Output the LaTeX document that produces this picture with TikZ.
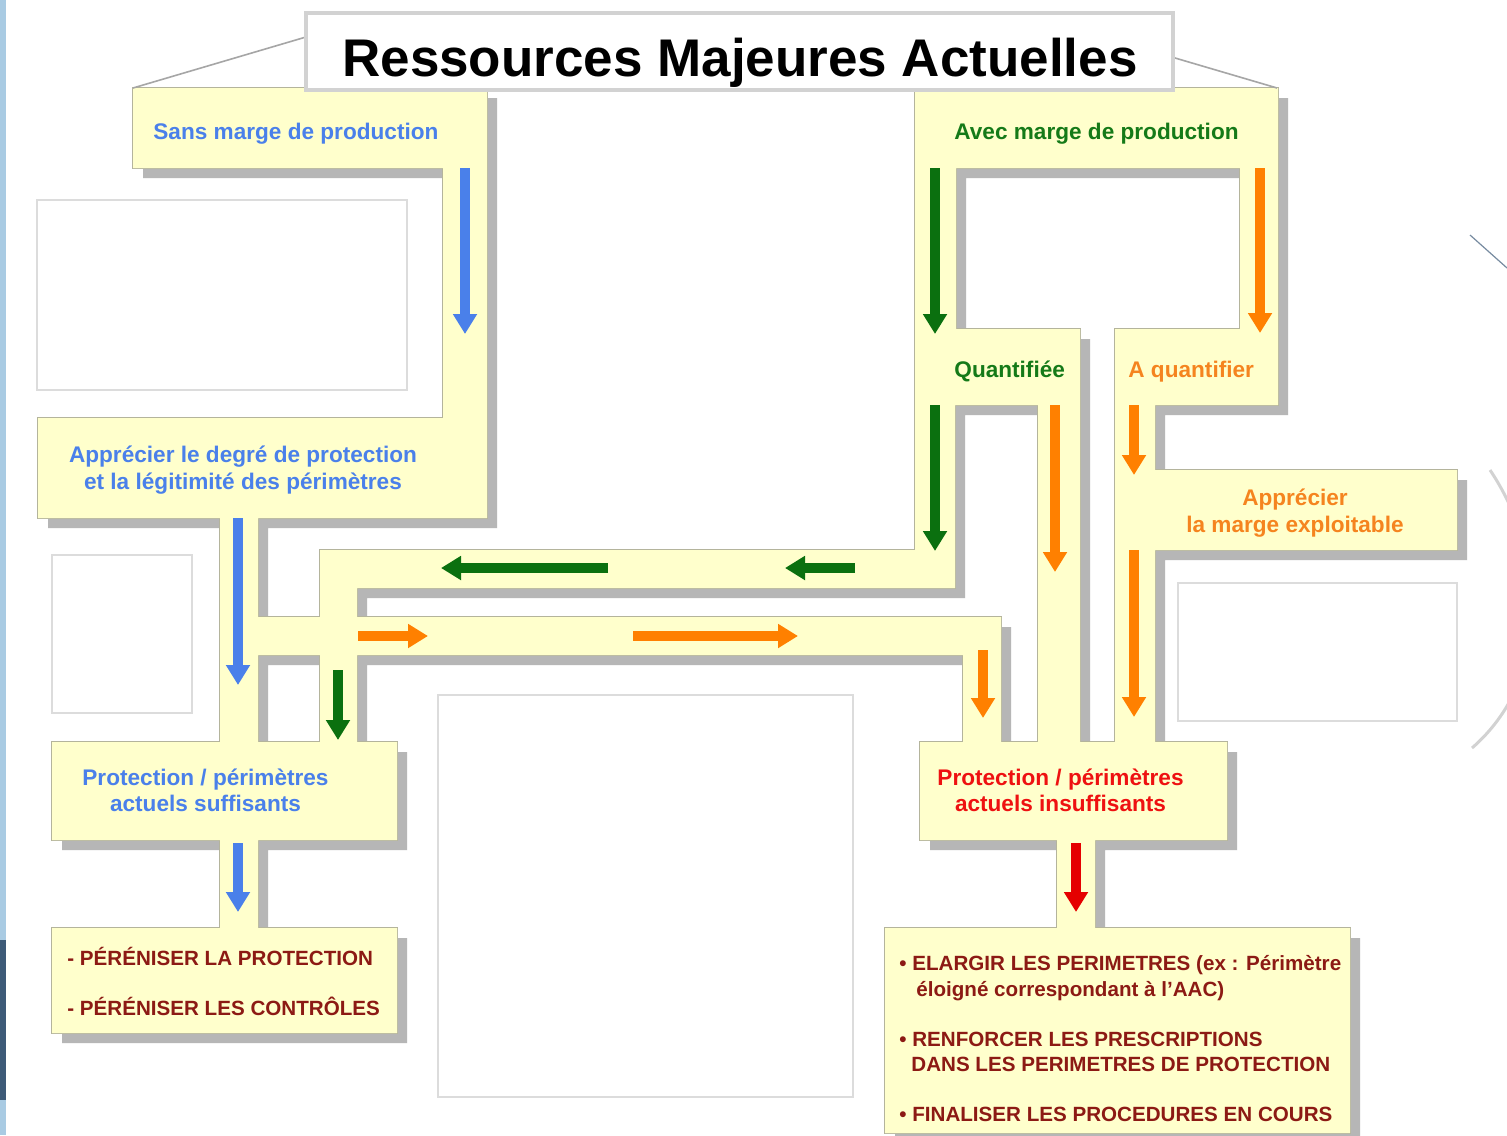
\documentclass[tikz,border=0pt]{standalone}
\usepackage{fontspec}
\setmainfont{Liberation Sans}
\usetikzlibrary{arrows.meta}
\definecolor{pipeY}{HTML}{FFFFCC}
\definecolor{pipeB}{HTML}{B4B49C}
\definecolor{shadowG}{HTML}{B6B6B6}
\definecolor{frameG}{HTML}{DCDCDC}
\definecolor{titleG}{HTML}{D2D2D2}
\definecolor{cBlue}{HTML}{4A80EA}
\definecolor{cGreen}{HTML}{157A18}
\definecolor{aGreen}{HTML}{0B700F}
\definecolor{cOrange}{HTML}{F5841F}
\definecolor{aOrange}{HTML}{FF8000}
\definecolor{cRed}{HTML}{EE1111}
\definecolor{cMaroon}{HTML}{8C1A14}
\definecolor{leftBlue}{HTML}{A9CBE3}
\definecolor{leftDark}{HTML}{3D5A78}
\newcommand\pipeshapes[1]{%
 \path[#1]
  (133,88) rectangle (487,168)
  (443,88) rectangle (487,418)
  (38,418) rectangle (487,518)
  (220,518) rectangle (258,742)
  (52,742) rectangle (397,840)
  (220,840) rectangle (258,928)
  (52,928) rectangle (397,1033)
  (258,617) rectangle (1001,655)
  (963,617) rectangle (1001,742)
  (320,550) rectangle (955,588)
  (320,550) rectangle (357,742)
  (915,88) rectangle (1278,168)
  (915,168) rectangle (956,329)
  (1240,168) rectangle (1278,329)
  (915,329) rectangle (1080,405)
  (1115,329) rectangle (1278,405)
  (915,405) rectangle (955,588)
  (1038,405) rectangle (1080,742)
  (1115,405) rectangle (1155,742)
  (1155,470) rectangle (1457,550)
  (920,742) rectangle (1227,840)
  (1057,840) rectangle (1095,928)
  (885,928) rectangle (1350,1133);}
\begin{document}
\begin{tikzpicture}[x=0.5pt,y=-0.5pt,
  frame/.style={draw=frameG, line width=0.7pt, fill=white},
  arr/.style={line width=5pt, -{Triangle[width=11.5pt,length=10pt]}},
  lbl/.style={font=\bfseries\fontsize{11.3}{13.5}\selectfont, inner sep=0pt, anchor=base},
  lblw/.style={lbl, anchor=base west},
  act/.style={font=\bfseries\fontsize{10.3}{12.5}\selectfont, inner sep=0pt, anchor=base west, text=cMaroon},
  ttl/.style={font=\bfseries\fontsize{26.5}{30}\selectfont, inner sep=0pt, anchor=base}]
\useasboundingbox (0,0) rectangle (1507,1135);
\fill[white] (0,0) rectangle (1507,1135);
% background fragments
\fill[leftBlue] (0,0) rectangle (6,1135);
\fill[leftDark] (0,940) rectangle (6,1100);
\draw[color=leftDark!70, line width=0.6pt] (1470,235) -- (1507,268);
\draw[gray!35, line width=1.5pt] (1490,470) .. controls (1550,560) and (1550,680) .. (1472,748);
% empty picture frames
\draw[frame] (37,200) rectangle (407,390);
\draw[frame] (52,555) rectangle (192,713);
\draw[frame] (438,695) rectangle (853,1097);
\draw[frame] (1178,583) rectangle (1457,721);
% pipes: shadow, border, fill
\begin{scope}[shift={(10,10)}]
  \pipeshapes{fill=shadowG}
\end{scope}
\pipeshapes{draw=pipeB, line width=1.3pt}
\pipeshapes{fill=pipeY}
% title
\coordinate (tlA) at (306,37);
\coordinate (tlB) at (133,88);
\coordinate (trA) at (1175,58);
\coordinate (trB) at (1277,88);
\draw[gray!70, line width=0.8pt] (tlA) -- (tlB);
\draw[gray!70, line width=0.8pt] (trA) -- (trB);
\draw[titleG, line width=2pt, fill=white] (306,13) rectangle (1173,90);
\node[ttl] (title) at (740,76) {Ressources Majeures Actuelles};
% labels
\node[lblw, text=cBlue] (sans) at (153,139) {Sans marge de production};
\node[lblw, text=cGreen] (avec) at (954,139) {Avec marge de production};
\node[lblw, text=cGreen] (quant) at (954,377) {Quantifiée};
\node[lblw, text=cOrange] (aquant) at (1128,377) {A quantifier};
\node[lbl, text=cBlue] (appA) at (243,462) {Apprécier le degré de protection};
\node[lbl, text=cBlue] (appB) at (243,489) {et la légitimité des périmètres};
\node[lbl, text=cOrange] (margA) at (1295,505) {Apprécier};
\node[lbl, text=cOrange] (margB) at (1295,532) {la marge exploitable};
\node[lbl, text=cBlue] (sufA) at (205.5,785) {Protection / périmètres};
\node[lbl, text=cBlue] (sufB) at (205.5,811) {actuels suffisants};
\node[lbl, text=cRed] (insA) at (1060.5,785) {Protection / périmètres};
\node[lbl, text=cRed] (insB) at (1060.5,811) {actuels insuffisants};
\node[act] (perA) at (67,965) {- PÉRÉNISER LA PROTECTION};
\node[act] (perB) at (67,1015) {- PÉRÉNISER LES CONTRÔLES};
\node[act] (finA) at (899,970) {• ELARGIR LES PERIMETRES (ex : Périmètre};
\node[act] (finB) at (916,996) {éloigné correspondant à l'AAC)};
\node[act] (finC) at (899,1046) {• RENFORCER LES PRESCRIPTIONS};
\node[act] (finD) at (911,1071) {DANS LES PERIMETRES DE PROTECTION};
\node[act] (finE) at (899,1121) {• FINALISER LES PROCEDURES EN COURS};
% arrow end points
\coordinate (b1s) at (465,168);  \coordinate (b1e) at (465,334);
\coordinate (b2s) at (238,518);  \coordinate (b2e) at (238,685);
\coordinate (b3s) at (238,843);  \coordinate (b3e) at (238,912);
\coordinate (g1s) at (935,168);  \coordinate (g1e) at (935,334);
\coordinate (g2s) at (935,405);  \coordinate (g2e) at (935,551);
\coordinate (g3s) at (855,568);  \coordinate (g3e) at (785,568);
\coordinate (g4s) at (608,568);  \coordinate (g4e) at (441,568);
\coordinate (g5s) at (338,670);  \coordinate (g5e) at (338,740);
\coordinate (o1s) at (1260,168); \coordinate (o1e) at (1260,333);
\coordinate (o2s) at (1055,405); \coordinate (o2e) at (1055,572);
\coordinate (o3s) at (1134,405); \coordinate (o3e) at (1134,475);
\coordinate (o4s) at (1134,550); \coordinate (o4e) at (1134,717);
\coordinate (o5s) at (358,636);  \coordinate (o5e) at (428,636);
\coordinate (o6s) at (633,636);  \coordinate (o6e) at (798,636);
\coordinate (o7s) at (983,650);  \coordinate (o7e) at (983,718);
\coordinate (r1s) at (1076,843); \coordinate (r1e) at (1076,912);
% arrows
\draw[arr, cBlue] (b1s) -- (b1e);
\draw[arr, cBlue] (b2s) -- (b2e);
\draw[arr, cBlue] (b3s) -- (b3e);
\draw[arr, aGreen] (g1s) -- (g1e);
\draw[arr, aGreen] (g2s) -- (g2e);
\draw[arr, aGreen] (g3s) -- (g3e);
\draw[arr, aGreen] (g4s) -- (g4e);
\draw[arr, aGreen] (g5s) -- (g5e);
\draw[arr, aOrange] (o1s) -- (o1e);
\draw[arr, aOrange] (o2s) -- (o2e);
\draw[arr, aOrange] (o3s) -- (o3e);
\draw[arr, aOrange] (o4s) -- (o4e);
\draw[arr, aOrange] (o5s) -- (o5e);
\draw[arr, aOrange] (o6s) -- (o6e);
\draw[arr, aOrange] (o7s) -- (o7e);
\draw[arr, red!90!black] (r1s) -- (r1e);
\end{tikzpicture}
\end{document}
